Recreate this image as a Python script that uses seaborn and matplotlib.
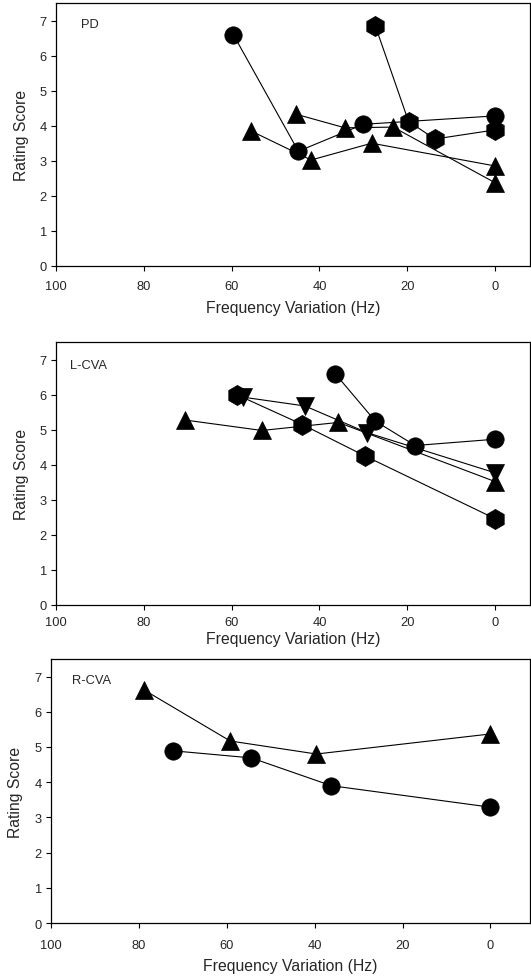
import matplotlib
matplotlib.use("Agg")
import matplotlib.pyplot as plt
import seaborn as sns
import pandas as pd

# ---- data (frequency variation in Hz, rating score) ----
# PD panel
pd_circle_x = [59.6, 44.8, 30.0, 0]
pd_circle_y = [6.60, 3.27, 4.04, 4.28]
pd_hex_x = [27.3, 19.7, 13.7, 0]
pd_hex_y = [6.86, 4.12, 3.62, 3.88]
pd_tri1_x = [55.6, 41.9, 28.1, 0]
pd_tri1_y = [3.85, 3.02, 3.50, 2.85]
pd_tri2_x = [45.4, 34.2, 23.2, 0]
pd_tri2_y = [4.33, 3.94, 3.96, 2.37]

# L-CVA panel
lcva_circle_x = [36.4, 27.3, 18.2, 0]
lcva_circle_y = [6.60, 5.25, 4.55, 4.73]
lcva_hex_x = [58.8, 43.9, 29.6, 0]
lcva_hex_y = [6.00, 5.15, 4.25, 2.46]
lcva_tridown_x = [57.3, 43.3, 29.2, 0]
lcva_tridown_y = [5.93, 5.68, 4.92, 3.77]
lcva_tri_x = [70.7, 53.1, 35.7, 0]
lcva_tri_y = [5.28, 4.98, 5.21, 3.52]

# R-CVA panel
rcva_tri_x = [78.8, 59.2, 39.6, 0]
rcva_tri_y = [6.62, 5.17, 4.80, 5.37]
rcva_circle_x = [72.1, 54.4, 36.2, 0]
rcva_circle_y = [4.89, 4.69, 3.90, 3.29]

yticks = [0, 1, 2, 3, 4, 5, 6, 7]
xticks = [100, 80, 60, 40, 20, 0]

marker_size = {"o": 12.5, "h": 14.5, "^": 12.5, "v": 12.5}

sns.set_style("ticks")
plt.rcParams["font.family"] = ["Liberation Sans", "DejaVu Sans"]

fig = plt.figure(figsize=(5.31, 9.78), dpi=100)

panels = [
    {
        "label": "PD", "label_xy": (94.3, 6.9),
        "rect": [0.1055, 0.7273, 0.893, 0.2684], "xlim": (100, -8),
        "tick_pad": 6.5, "xlabel_pad": 6,
        "series": [("o", pd_circle_x, pd_circle_y), ("h", pd_hex_x, pd_hex_y),
                   ("^", pd_tri1_x, pd_tri1_y), ("^", pd_tri2_x, pd_tri2_y)],
    },
    {
        "label": "L-CVA", "label_xy": (96.9, 6.86),
        "rect": [0.1055, 0.3806, 0.893, 0.2684], "xlim": (100, -8),
        "tick_pad": 4.5, "xlabel_pad": 2,
        "series": [("o", lcva_circle_x, lcva_circle_y), ("h", lcva_hex_x, lcva_hex_y),
                   ("v", lcva_tridown_x, lcva_tridown_y), ("^", lcva_tri_x, lcva_tri_y)],
    },
    {
        "label": "R-CVA", "label_xy": (95.2, 6.9),
        "rect": [0.0957, 0.0552, 0.9025, 0.27], "xlim": (100, -9),
        "tick_pad": 8, "xlabel_pad": 5,
        "series": [("^", rcva_tri_x, rcva_tri_y), ("o", rcva_circle_x, rcva_circle_y)],
    },
]

for p in panels:
    ax = fig.add_axes(p["rect"])
    for marker, xs, ys in p["series"]:
        df = pd.DataFrame({"freq": xs, "score": ys})
        sns.lineplot(data=df, x="freq", y="score", marker=marker,
                     color="black", linewidth=0.8,
                     markersize=marker_size[marker], markeredgecolor="black",
                     markeredgewidth=0.5, sort=False, estimator=None,
                     legend=False, ax=ax)
    ax.set_xlim(*p["xlim"])
    ax.set_ylim(0, 7.5)
    ax.set_xticks(xticks)
    ax.set_yticks(yticks)
    ax.tick_params(axis="both", direction="out", length=3.5, width=0.8,
                   labelsize=9.3, color="black")
    ax.tick_params(axis="x", pad=p["tick_pad"])
    ax.tick_params(axis="y", pad=3)
    for side in ["top", "right", "left", "bottom"]:
        ax.spines[side].set_visible(True)
        ax.spines[side].set_linewidth(0.9)
        ax.spines[side].set_color("black")
    ax.set_xlabel("Frequency Variation (Hz)", fontsize=11.3, labelpad=p["xlabel_pad"])
    ax.set_ylabel("Rating Score", fontsize=11.3, labelpad=8)
    ax.text(p["label_xy"][0], p["label_xy"][1], p["label"], fontsize=9.3,
            ha="left", va="center")

fig.savefig("out.png", dpi=100)
